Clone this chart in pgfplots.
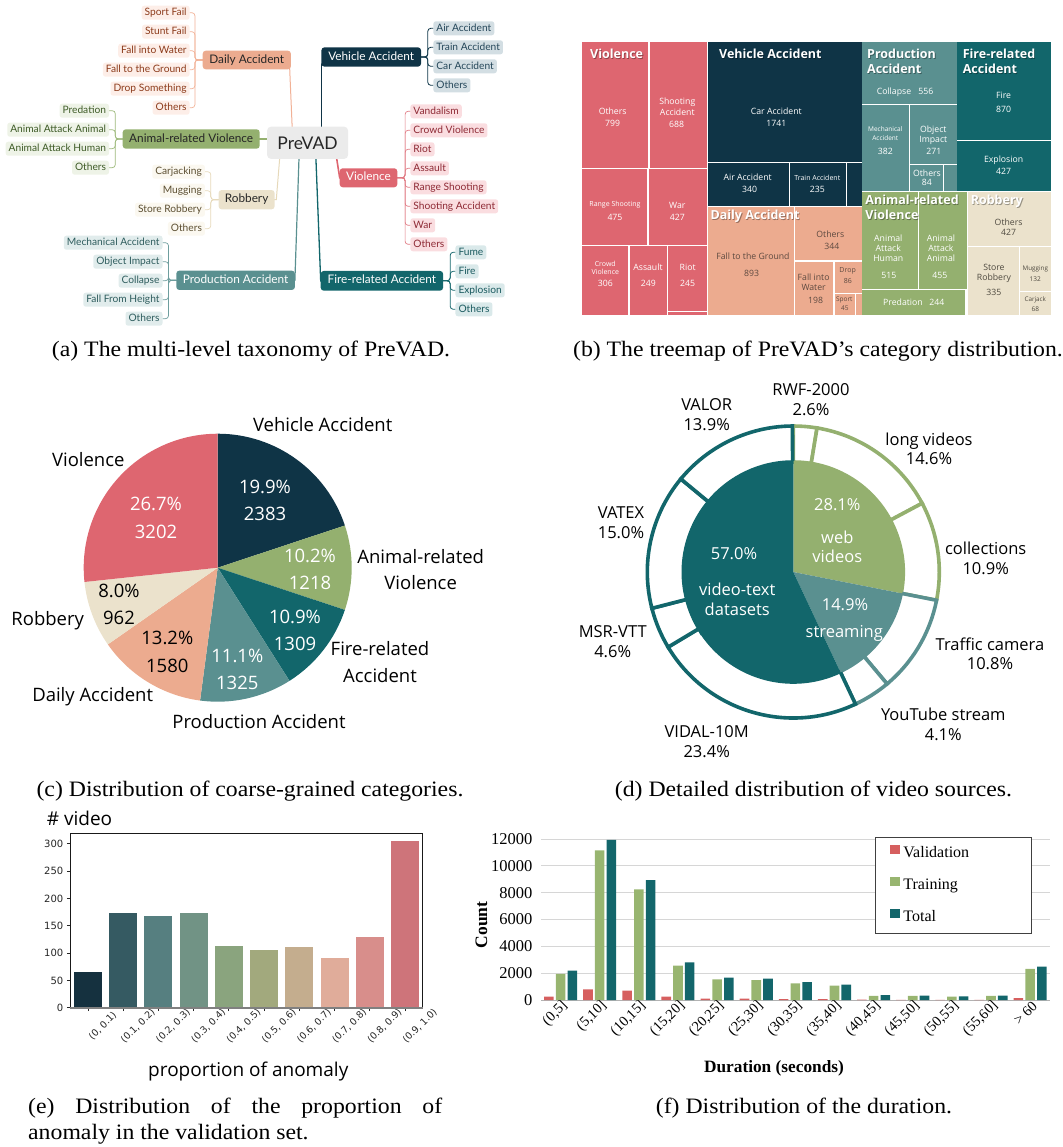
\documentclass[border=0pt]{standalone}
\usepackage{fontspec}
\usepackage{pgfplots}
\usepackage{pgfplotstable}
\pgfplotsset{compat=1.18}
\setmainfont{Liberation Serif}
\newfontfamily\capf{Liberation Serif}[FakeStretch=1.08]
\newfontfamily\osans{Open Sans}
\newfontfamily\lato{Lato}
\newfontfamily\dvs{DejaVu Sans}
\newcommand\fs[2]{\fontsize{#1bp}{#2bp}\selectfont}

\definecolor{cViol}{HTML}{DE6670}
\definecolor{cVeh}{HTML}{0F3446}
\definecolor{cAni}{HTML}{94B06F}
\definecolor{cFire}{HTML}{12666B}
\definecolor{cProd}{HTML}{5A9090}
\definecolor{cDaily}{HTML}{ECAB8F}
\definecolor{cRob}{HTML}{EBE2CC}
\definecolor{cDT}{HTML}{5E4A40}
\definecolor{cRT}{HTML}{4F4A40}
% mind map leaf colours
\definecolor{lDF}{HTML}{FDEEE8}\definecolor{lDT}{HTML}{8C3B1B}\definecolor{lDL}{HTML}{F1B196}
\definecolor{lAF}{HTML}{EEF3E7}\definecolor{lAT}{HTML}{3E5B27}\definecolor{lAL}{HTML}{9DB97B}
\definecolor{lRF}{HTML}{FBF8F0}\definecolor{lRT}{HTML}{5C4F32}\definecolor{lRL}{HTML}{E6D9BA}
\definecolor{lPF}{HTML}{E1ECEC}\definecolor{lPT}{HTML}{2F5D5E}\definecolor{lPL}{HTML}{6E9E9E}
\definecolor{lVF}{HTML}{D3DEE3}\definecolor{lVT}{HTML}{25475A}\definecolor{lVL}{HTML}{10384A}
\definecolor{lXF}{HTML}{FADDE0}\definecolor{lXT}{HTML}{8E2A35}\definecolor{lXL}{HTML}{E07A83}
\definecolor{lFF}{HTML}{DAE9EA}\definecolor{lFT}{HTML}{1B5B60}\definecolor{lFL}{HTML}{16686D}
% bar chart (e)
\definecolor{e0}{HTML}{15313F}\definecolor{e1}{HTML}{355A62}\definecolor{e2}{HTML}{567F80}
\definecolor{e3}{HTML}{719385}\definecolor{e4}{HTML}{8AA47E}\definecolor{e5}{HTML}{A2A97D}
\definecolor{e6}{HTML}{C4AD8E}\definecolor{e7}{HTML}{E0AC9A}\definecolor{e8}{HTML}{D88E8B}
\definecolor{e9}{HTML}{CE747A}
% bar chart (f)
\definecolor{cVal}{HTML}{D65F5F}
\definecolor{cTrain}{HTML}{98B570}
\definecolor{cTot}{HTML}{13666B}

\pgfplotstableread{
x val train total
0 250 1940 2190
1 790 11150 11930
2 700 8250 8940
3 250 2560 2810
4 100 1540 1660
5 100 1490 1590
6 75 1240 1340
7 75 1070 1140
8 20 300 370
9 15 300 320
10 10 250 270
11 10 300 320
12 150 2330 2480
}\dur

\pgfplotsset{
 valleg/.style={legend image code/.code={\fill[cVal] (0bp,0bp) rectangle (9.6bp,8.4bp);}},
 trainleg/.style={legend image code/.code={\fill[cTrain] (0bp,0bp) rectangle (9.6bp,8.4bp);}},
 totleg/.style={legend image code/.code={\fill[cTot] (0bp,0bp) rectangle (9.6bp,8.4bp);}},
}

% treemap helpers (inside axis, units = 1/3 px)
\newcommand\trect[5]{\addplot[fill=#1, draw=none] coordinates {(#2,#3) (#4,#3) (#4,#5) (#2,#5)} --cycle;}
\newcommand\tlab[5][white]{\node[anchor=base, inner sep=0pt, text=#1, font=\osans\fs{#2}{#2}] at (axis cs:#3,{#4+1.08*#2}) {#5};}
\newcommand\ttitle[3]{\node[anchor=base west, inner sep=0pt, text=black, opacity=0.35, font=\osans\bfseries\fs{12.5}{13}] at (axis cs:{#1+2.5},{#2+16}) {#3};%
 \node[anchor=base west, inner sep=0pt, text=white, font=\osans\bfseries\fs{12.5}{13}] at (axis cs:#1,{#2+13.5}) {#3};}
% pie helpers (inside axis with 1 unit = 1bp)
\newcommand\pslice[4]{\fill[#1] (axis cs:0,0) -- ++(#2:#4bp) arc[start angle=#2, delta angle={-3.6*#3}, radius=#4bp] -- cycle;}
\newcommand\ringseg[3]{\filldraw[fill=white, draw=#1, line width=3.6bp, line join=miter] (axis cs:0,0) ++(#2:110bp) -- ++(#2:36bp) arc[start angle=#2, delta angle={-3.6*#3}, radius=146bp] -- ++({#2-3.6*#3}:-36bp) arc[start angle={#2-3.6*#3}, delta angle={3.6*#3}, radius=110bp] -- cycle;}
% global text helpers (scope with x=1bp,y=-1bp)
\newcommand\ctext[5][black]{\node[anchor=base, inner sep=0pt, text=#1, font=\osans\fs{#2}{#2}] at (#3,{#4+0.36*#2}) {#5};}

\begin{document}
\begin{tikzpicture}
\path (0,0) rectangle (1063bp,-1147bp);

%================ (a) taxonomy ================
\begin{scope}[x=1bp,y=-1bp, line cap=round,
  leafL/.style={anchor=east, rounded corners=2.5bp, inner xsep=3bp, inner ysep=0pt, minimum height=14bp, text height=8bp, text depth=2.3bp, font=\lato\fs{10.2}{12}},
  leafR/.style={anchor=west, rounded corners=2.5bp, inner xsep=3bp, inner ysep=0pt, minimum height=14bp, text height=8bp, text depth=2.3bp, font=\lato\fs{10.2}{12}},
  mainN/.style={rounded corners=3bp, inner sep=0pt, text height=8.6bp, text depth=2.6bp, font=\lato\fs{11.8}{13}}]
 \draw[lDL, line width=1bp] (289.5,64) -- (292.2,128);
 \draw[cVeh, line width=1.3bp] (321.4,64) -- (321.4,128);
 \draw[cAni, line width=1.3bp] (258,139) -- (268,139);
 \draw[lRL, line width=1bp] (279.7,158) -- (276.3,199.7) -- (273,199.7);
 \draw[cProd, line width=1.2bp] (299,158) -- (294.9,280.3) -- (292,280.3);
 \draw[cViol, line width=1.6bp] (336.6,158) -- (339.7,177.8) -- (342,177.8);
 \draw[cFire, line width=1.3bp] (315.9,158) -- (320.7,281) -- (323,281);
 \node[fill=black!8, rounded corners=4bp, minimum width=81bp, minimum height=32.3bp, inner sep=0pt, font=\lato\fs{17.5}{20}, text=black!85] at (307.6,142.8) {PreVAD};
 % Daily
 \foreach \yy/\lab in {12.7/Sport Fail,31.7/Stunt Fail,50.7/Fall into Water,69.7/Fall to the Ground,88.7/Drop Something,107.7/Others}{
  \draw[lDL, line width=0.7bp, rounded corners=3bp] (202.7,60) -- (194.9,60) -- (194.9,\yy) -- (189.8,\yy);
  \node[leafL, fill=lDF, text=lDT] at (189.8,\yy) {\lab};}
 \node[mainN, fill=cDaily, text=black!85, minimum width=88.1bp, minimum height=18.7bp] at (246.8,60) {Daily Accident};
 % Animal
 \foreach \yy/\lab in {110.7/Predation,129.7/Animal Attack Animal,148.7/Animal Attack Human,167.7/Others}{
  \draw[lAL, line width=0.7bp, rounded corners=3bp] (122.7,139) -- (115.3,139) -- (115.3,\yy) -- (109.2,\yy);
  \node[leafL, fill=lAF, text=lAT] at (109.2,\yy) {\lab};}
 \node[mainN, fill=cAni, text=black!85, minimum width=137bp, minimum height=19.3bp] at (191.2,139) {Animal-related Violence};
 % Robbery
 \foreach \yy/\lab in {171.7/Carjacking,190.7/Mugging,209.7/Store Robbery,228.7/Others}{
  \draw[lRL, line width=0.7bp, rounded corners=3bp] (218.6,199.7) -- (210.8,199.7) -- (210.8,\yy) -- (205.1,\yy);
  \node[leafL, fill=lRF, text=lRT] at (205.1,\yy) {\lab};}
 \node[mainN, fill=cRob, text=black!85, minimum width=56bp, minimum height=19.3bp] at (246.6,199.7) {Robbery};
 % Production
 \foreach \yy/\lab in {242.7/Mechanical Accident,261.7/Object Impact,280.7/Collapse,299.7/Fall From Height,318.7/Others}{
  \draw[lPL, line width=0.7bp, rounded corners=3bp] (176.3,280.3) -- (168.5,280.3) -- (168.5,\yy) -- (162.7,\yy);
  \node[leafL, fill=lPF, text=lPT] at (162.7,\yy) {\lab};}
 \node[mainN, fill=cProd, text=white, minimum width=118.6bp, minimum height=19.3bp] at (235.6,280.3) {Production Accident};
 % Vehicle
 \foreach \yy/\lab in {28.3/Air Accident,47.3/Train Accident,66.3/Car Accident,85.3/Others}{
  \draw[lVL, line width=0.8bp, rounded corners=3bp] (421,57) -- (427.8,57) -- (427.8,\yy) -- (433.2,\yy);
  \node[leafR, fill=lVF, text=lVT] at (433.2,\yy) {\lab};}
 \node[mainN, fill=cVeh, text=white, minimum width=99.6bp, minimum height=19.3bp] at (371.2,57) {Vehicle Accident};
 % Violence
 \foreach \yy/\lab in {111.3/Vandalism,130.3/Crowd Violence,149.3/Riot,168.3/Assault,187.3/Range Shooting,206.3/Shooting Accident,225.3/War,244.3/Others}{
  \draw[lXL, line width=0.7bp, rounded corners=3bp] (397.3,177.8) -- (405.1,177.8) -- (405.1,\yy) -- (410.2,\yy);
  \node[leafR, fill=lXF, text=lXT] at (410.2,\yy) {\lab};}
 \node[mainN, fill=cViol, text=white, minimum width=57.6bp, minimum height=19bp] at (368.5,177.8) {Violence};
 % Fire
 \foreach \yy/\lab in {252.3/Fume,271.3/Fire,290.3/Explosion,309.3/Others}{
  \draw[lFL, line width=0.8bp, rounded corners=3bp] (443.1,280.8) -- (450.2,280.8) -- (450.2,\yy) -- (455.3,\yy);
  \node[leafR, fill=lFF, text=lFT] at (455.3,\yy) {\lab};}
 \node[mainN, fill=cFire, text=white, minimum width=122.4bp, minimum height=19.7bp] at (381.9,280.8) {Fire-related Accident};
\end{scope}

%================ (b) treemap ================
\begin{axis}[at={(582.3bp,-41.7bp)}, anchor=north west, scale only axis,
  width=468.3bp, height=273.3bp, xmin=22, xmax=1427, ymin=20, ymax=840,
  y dir=reverse, hide axis, clip=false, enlargelimits=false]
 \trect{cViol}{22}{20}{220}{400}
 \trect{cViol}{224}{20}{397}{400}
 \trect{cViol}{22}{403}{217}{630}
 \trect{cViol}{221}{403}{397}{630}
 \trect{cViol}{22}{634}{160}{840}
 \trect{cViol}{164}{634}{276}{840}
 \trect{cViol}{279}{634}{397}{828}
 \trect{cViol}{279}{831}{397}{840}
 \trect{cVeh}{399}{20}{860}{380}
 \trect{cVeh}{399}{383}{641}{512}
 \trect{cVeh}{645}{383}{812}{512}
 \trect{cVeh}{815}{383}{860}{512}
 \trect{cDaily}{399}{515}{657}{840}
 \trect{cDaily}{661}{515}{860}{676}
 \trect{cDaily}{661}{680}{775}{840}
 \trect{cDaily}{779}{680}{860}{773}
 \trect{cDaily}{779}{776}{840}{840}
 \trect{cDaily}{843}{776}{860}{840}
 \trect{cProd}{862}{20}{1145}{207}
 \trect{cProd}{862}{210}{1002}{467}
 \trect{cProd}{1005}{210}{1145}{388}
 \trect{cProd}{1005}{391}{1105}{467}
 \trect{cProd}{1108}{391}{1145}{467}
 \trect{cFire}{1147}{20}{1427}{316}
 \trect{cFire}{1147}{319}{1418}{467}
 \trect{cFire}{1420}{319}{1427}{467}
 \trect{cAni}{862}{470}{1028}{763}
 \trect{cAni}{1031}{470}{1176}{763}
 \trect{cAni}{862}{766}{1170}{840}
 \trect{cRob}{1178}{470}{1427}{633}
 \trect{cRob}{1178}{636}{1333}{840}
 \trect{cRob}{1336}{636}{1427}{768}
 \trect{cRob}{1336}{771}{1427}{840}
 % labels
 \tlab{8.7}{113}{228}{Others}\tlab{8.7}{113}{266}{799}
 \tlab{8.7}{307}{200}{Shooting}\tlab{8.7}{307}{233}{Accident}\tlab{8.7}{305}{269}{688}
 \tlab{7}{120}{508}{Range Shooting}\tlab{8.7}{120}{548}{475}
 \tlab{8.7}{307}{510}{War}\tlab{8.7}{307}{548}{427}
 \tlab{7}{91}{688}{Crowd}\tlab{7}{91}{712}{Violence}\tlab{8.7}{91}{746}{306}
 \tlab{8.7}{219}{698}{Assault}\tlab{8.7}{220}{746}{249}
 \tlab{8.7}{338}{698}{Riot}\tlab{8.7}{338}{746}{245}
 \tlab{8.7}{604}{230}{Car Accident}\tlab{8.7}{604}{266}{1741}
 \tlab{8.7}{518}{428}{Air Accident}\tlab{8.7}{524}{464}{340}
 \tlab{7}{727}{430}{Train Accident}\tlab{8.7}{727}{464}{235}
 \tlab[cDT]{8.7}{534}{665}{Fall to the Ground}\tlab[cDT]{8.7}{530}{716}{893}
 \tlab[cDT]{8.7}{766}{599}{Others}\tlab[cDT]{8.7}{771}{635}{344}
 \tlab[cDT]{8.7}{716}{728}{Fall into}\tlab[cDT]{8.7}{716}{758}{Water}\tlab[cDT]{8.7}{722}{797}{198}
 \tlab[cDT]{7}{818}{706}{Drop}\tlab[cDT]{7}{819}{739}{86}
 \tlab[cDT]{6.5}{808}{793}{Sport}\tlab[cDT]{6.5}{810}{820}{45}
 \tlab{8.7}{957}{170}{Collapse}\tlab{8.7}{1053}{170}{556}
 \tlab{6.5}{931}{283}{Mechanical}\tlab{6.5}{931}{310}{Accident}\tlab{8.7}{931}{350}{382}
 \tlab{8.7}{1075}{282}{Object}\tlab{8.7}{1075}{312}{Impact}\tlab{8.7}{1077}{350}{271}
 \tlab{8.7}{1056}{416}{Others}\tlab{8.7}{1056}{443}{84}
 \tlab{8.7}{1286}{180}{Fire}\tlab{8.7}{1286}{224}{870}
 \tlab{8.7}{1286}{374}{Explosion}\tlab{8.7}{1286}{410}{427}
 \tlab{8.7}{940}{611}{Animal}\tlab{8.7}{940}{641}{Attack}\tlab{8.7}{940}{671}{Human}\tlab{8.7}{942}{722}{515}
 \tlab{8.7}{1098}{611}{Animal}\tlab{8.7}{1098}{641}{Attack}\tlab{8.7}{1098}{671}{Animal}\tlab{8.7}{1095}{722}{455}
 \tlab{8.7}{984}{803}{Predation}\tlab{8.7}{1086}{803}{244}
 \tlab[cRT]{8.7}{1301}{563}{Others}\tlab[cRT]{8.7}{1301}{593}{427}
 \tlab[cRT]{8.7}{1257}{698}{Store}\tlab[cRT]{8.7}{1257}{728}{Robbery}\tlab[cRT]{8.7}{1257}{773}{335}
 \tlab[cRT]{6.3}{1381}{701}{Mugging}\tlab[cRT]{6.5}{1381}{732}{132}
 \tlab[cRT]{6.3}{1381}{793}{Carjack}\tlab[cRT]{6.5}{1381}{822}{68}
 \ttitle{45}{58}{Violence}
 \ttitle{432}{58}{Vehicle Accident}
 \ttitle{406}{541}{Daily Accident}
 \ttitle{876}{58}{Production}\ttitle{876}{103}{Accident}
 \ttitle{1163}{58}{Fire-related}\ttitle{1163}{103}{Accident}
 \ttitle{871}{496}{Animal-related}\ttitle{871}{541}{Violence}
 \ttitle{1187}{496}{Robbery}
\end{axis}

%================ (c) pie ================
\begin{axis}[at={(217.7bp,-567.7bp)}, anchor=center, x=1bp, y=1bp,
  xmin=-140, xmax=140, ymin=-140, ymax=140, hide axis, clip=false]
 \pslice{cVeh}{90}{19.9}{134}
 \pslice{cAni}{18.36}{10.2}{134}
 \pslice{cFire}{-18.36}{10.9}{134}
 \pslice{cProd}{-57.6}{11.1}{134}
 \pslice{cDaily}{-97.56}{13.2}{134}
 \pslice{cRob}{-145.08}{8.0}{134}
 \pslice{cViol}{-173.88}{26.7}{134}
\end{axis}

%================ (d) donut ================
\begin{axis}[at={(793.3bp,-572bp)}, anchor=center, x=1bp, y=1bp,
  xmin=-160, xmax=160, ymin=-160, ymax=160, hide axis, clip=false]
 \ringseg{cAni}{90}{2.6}
 \ringseg{cAni}{80.64}{14.6}
 \ringseg{cAni}{28.08}{10.9}
 \ringseg{cProd}{-11.16}{10.8}
 \ringseg{cProd}{-50.04}{4.1}
 \ringseg{cFire}{-64.8}{23.4}
 \ringseg{cFire}{-149.04}{4.6}
 \ringseg{cFire}{-165.6}{15.0}
 \ringseg{cFire}{-219.6}{13.9}
 \pslice{cAni}{90}{28.1}{111}
 \pslice{cProd}{-11.16}{14.9}{111}
 \pslice{cFire}{-64.8}{57.0}{111}
\end{axis}

%================ (e) bar chart ================
\begin{axis}[at={(70.3bp,-1007.7bp)}, anchor=south west, scale only axis,
  width=352.4bp, height=174.4bp, xmin=-0.5, xmax=9.5, ymin=0, ymax=319,
  ytick={0,50,100,150,200,250,300}, xtick={0,...,9},
  xticklabels={{(0, 0.1)},{(0.1, 0.2)},{(0.2, 0.3)},{(0.3, 0.4)},{(0.4, 0.5)},{(0.5, 0.6)},{(0.6, 0.7)},{(0.7, 0.8)},{(0.8, 0.9)},{(0.9, 1.0)}},
  tick align=outside, tick pos=left, major tick length=3.5bp,
  every tick/.style={black!85, line width=0.8bp},
  axis line style={black!90, line width=0.8bp},
  ticklabel style={font=\dvs\fs{10}{12}, text=black!85},
  xticklabel style={font=\dvs\fs{9.5}{11}},
  /pgf/number format/assume math mode=true,
  xticklabel style={rotate=45, anchor=center, yshift=-21bp},
  enlargelimits=false, clip=false]
 \addplot[ybar, bar width=0.8, bar shift=0, fill=e0, draw=none] coordinates {(0,65)};
 \addplot[ybar, bar width=0.8, bar shift=0, fill=e1, draw=none] coordinates {(1,173)};
 \addplot[ybar, bar width=0.8, bar shift=0, fill=e2, draw=none] coordinates {(2,168)};
 \addplot[ybar, bar width=0.8, bar shift=0, fill=e3, draw=none] coordinates {(3,173)};
 \addplot[ybar, bar width=0.8, bar shift=0, fill=e4, draw=none] coordinates {(4,113)};
 \addplot[ybar, bar width=0.8, bar shift=0, fill=e5, draw=none] coordinates {(5,105)};
 \addplot[ybar, bar width=0.8, bar shift=0, fill=e6, draw=none] coordinates {(6,111)};
 \addplot[ybar, bar width=0.8, bar shift=0, fill=e7, draw=none] coordinates {(7,91)};
 \addplot[ybar, bar width=0.8, bar shift=0, fill=e8, draw=none] coordinates {(8,129)};
 \addplot[ybar, bar width=0.8, bar shift=0, fill=e9, draw=none] coordinates {(9,305)};
 \draw[black!50, line width=1.6bp] (rel axis cs:0,0) -- (rel axis cs:1,0);
\end{axis}

%================ (f) duration ================
\begin{axis}[at={(541bp,-1000bp)}, anchor=south west, scale only axis,
  width=508.7bp, height=161bp, xmin=-0.5, xmax=12.5, ymin=0, ymax=12000,
  ybar, bar width=0.245,
  ytick={0,2000,4000,6000,8000,10000,12000}, ymajorgrids,
  grid style={black!16, line width=0.7bp},
  axis x line*=bottom, axis y line*=left,
  y axis line style={draw=none}, x axis line style={black!30, line width=0.8bp},
  major tick length=0pt,
  xtick={0,...,12},
  xticklabels={{(0,5]},{(5,10]},{(10,15]},{(15,20]},{(20,25]},{(25,30]},{(30,35]},{(35,40]},{(40,45]},{(45,50]},{(50,55]},{(55,60]},{> 60}},
  ticklabel style={font=\fs{16.5}{18}},
  xticklabel style={font=\fs{14.5}{16}},
  /pgf/number format/assume math mode=true, /pgf/number format/1000 sep={},
  scaled y ticks=false,
  yticklabel style={xshift=-5bp},
  xticklabel style={rotate=45, anchor=east, xshift=4bp, yshift=-6bp},
  legend style={at={(0.6566,1.0143)}, anchor=north west, draw=black!75, line width=0.8bp,
    fill=white, inner xsep=15bp, inner ysep=8bp, row sep=15.6bp, column sep=3.4bp,
    font=\fs{16}{18}, nodes={inner sep=0pt, text height=12bp, text depth=4bp}},
  legend cell align=left,
  enlargelimits=false, clip=false]
 \addplot[valleg, fill=cVal, draw=none, bar shift=-0.3] table[x=x, y=val] {\dur};
 \addlegendentry{\makebox[112.5bp][l]{Validation}}
 \addplot[trainleg, fill=cTrain, draw=none, bar shift=0] table[x=x, y=train] {\dur};
 \addlegendentry{\makebox[112.5bp][l]{Training}}
 \addplot[totleg, fill=cTot, draw=none, bar shift=0.3] table[x=x, y=total] {\dur};
 \addlegendentry{\makebox[112.5bp][l]{Total}}
\end{axis}

%================ texts ================
\begin{scope}[x=1bp,y=-1bp]
 % (c) labels
 \ctext{18.5}{322.7}{425}{Vehicle Accident}
 \ctext{18.5}{88.3}{460}{Violence}
 \ctext{18.5}{420.7}{556.7}{Animal-related}
 \ctext{18.5}{420.7}{583.3}{Violence}
 \ctext{18.5}{47.7}{619.3}{Robbery}
 \ctext{18.5}{380}{649.3}{Fire-related}
 \ctext{18.5}{380}{676}{Accident}
 \ctext{18.5}{92.7}{695}{Daily Accident}
 \ctext{18.5}{259}{721.7}{Production Accident}
 \ctext[white]{18.5}{265}{487.3}{19.9\%}\ctext[white]{18.5}{265}{514.3}{2383}
 \ctext[white]{18.5}{156}{504.3}{26.7\%}\ctext[white]{18.5}{156}{531.7}{3202}
 \ctext[white]{18.5}{310}{556}{10.2\%}\ctext[white]{18.5}{310}{582.7}{1218}
 \ctext[white]{18.5}{295}{616.7}{10.9\%}\ctext[white]{18.5}{295}{644}{1309}
 \ctext[white]{18.5}{237.3}{655.7}{11.1\%}\ctext[white]{18.5}{237.3}{682.7}{1325}
 \ctext{18.5}{119}{590.7}{8.0\%}\ctext{18.5}{119}{618.3}{962}
 \ctext{18.5}{167.3}{638.3}{13.2\%}\ctext{18.5}{167.3}{665.7}{1580}
 % (d) labels
 \ctext{16.5}{811}{389.3}{RWF-2000}\ctext{16.5}{811}{409.3}{2.6\%}
 \ctext{16.5}{706.7}{405}{VALOR}\ctext{16.5}{706.7}{425}{13.9\%}
 \ctext{16.5}{929}{439.3}{long videos}\ctext{16.5}{929}{458.3}{14.6\%}
 \ctext{16.5}{621}{512.3}{VATEX}\ctext{16.5}{621}{532.3}{15.0\%}
 \ctext{16.5}{985.7}{548.3}{collections}\ctext{16.5}{985.7}{568.3}{10.9\%}
 \ctext{16.5}{612.7}{631.7}{MSR-VTT}\ctext{16.5}{612.7}{651.7}{4.6\%}
 \ctext{16.5}{990}{645}{Traffic camera}\ctext{16.5}{990}{663.3}{10.8\%}
 \ctext{16.5}{943.3}{714.3}{YouTube stream}\ctext{16.5}{943.3}{734.3}{4.1\%}
 \ctext{16.5}{706.7}{731.7}{VIDAL-10M}\ctext{16.5}{706.7}{751.7}{23.4\%}
 \ctext[white]{16.5}{837.3}{505}{28.1\%}\ctext[white]{16.5}{837.3}{537.3}{web}\ctext[white]{16.5}{837.3}{556.7}{videos}
 \ctext[white]{16.5}{734}{553.3}{57.0\%}\ctext[white]{16.5}{737.3}{590}{video-text}\ctext[white]{16.5}{737.3}{609.3}{datasets}
 \ctext[white]{16.5}{845}{605}{14.9\%}\ctext[white]{16.5}{844.3}{631.7}{streaming}
 % (e) labels
 \node[anchor=base west, inner sep=0pt, font=\osans\fs{19}{20}] at (46.7,825.8) {\# video};
 \ctext{19}{248.3}{1070}{proportion of anomaly}
 % (f) labels
 \node[rotate=90, inner sep=0pt, font=\bfseries\fs{17.5}{18}] at (481.5,925) {Count};
 \node[anchor=base, inner sep=0pt, font=\bfseries\fs{17.3}{18}] at (774,1072.9) {Duration (seconds)};
 % captions
 \node[anchor=base, inner sep=0pt, font=\capf\fs{22}{26}] at (251,356) {(a) The multi-level taxonomy of PreVAD.};
 \node[anchor=base, inner sep=0pt, font=\capf\fs{22}{26}] at (818,356) {(b) The treemap of PreVAD’s category distribution.};
 \node[anchor=base, inner sep=0pt, font=\capf\fs{22}{26}] at (250,796) {(c) Distribution of coarse-grained categories.};
 \node[anchor=base, inner sep=0pt, font=\capf\fs{22}{26}] at (813.5,796) {(d) Detailed distribution of video sources.};
 \node[anchor=base west, inner sep=0pt, font=\capf\fs{22}{26}] at (28,1113) {\makebox[414bp][s]{(e) Distribution of the proportion of}};
 \node[anchor=base west, inner sep=0pt, font=\capf\fs{22}{26}] at (28,1139) {anomaly in the validation set.};
 \node[anchor=base, inner sep=0pt, font=\capf\fs{22}{26}] at (804,1113) {(f) Distribution of the duration.};
\end{scope}

\pgfresetboundingbox
\path[use as bounding box] (0,0) rectangle (1063bp,-1147bp);
\end{tikzpicture}
\end{document}
